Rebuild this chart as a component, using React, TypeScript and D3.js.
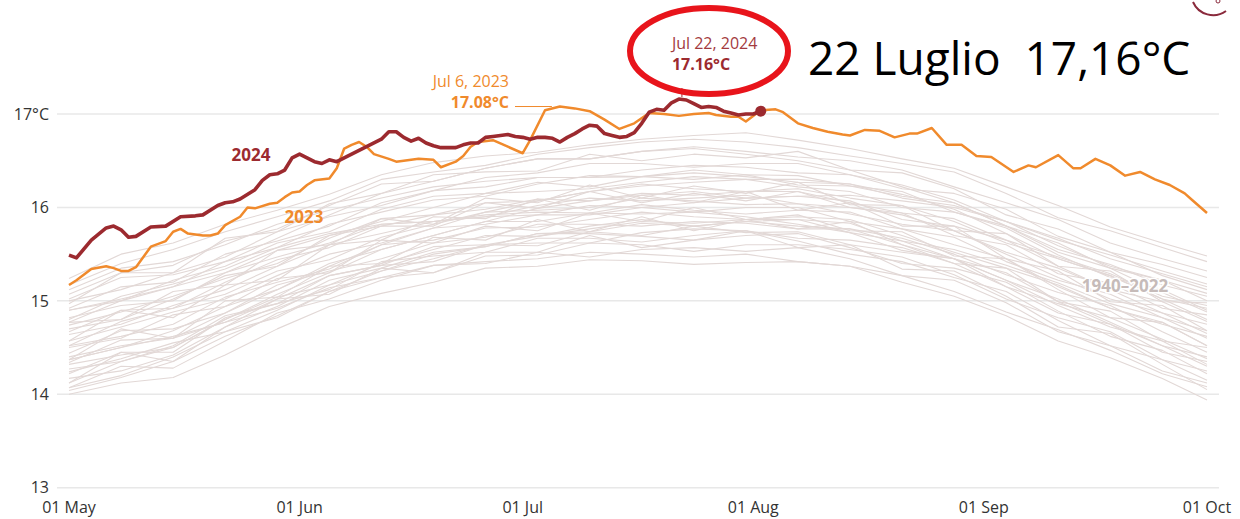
import React from "react";
import * as d3 from "d3";

// ---- Data (day offset from 1 May, °C) ----
const days2024 = [0,1,3,5,6,7,8,9,11,13,15,17,18,20,21,22,23,25,26,27,28,29,30,31,33,34,35,36,38,40,42,43,44,45,46,47,48,49,50,51,52,53,54,55,56,57,58,59,60,61,62,63,64,65,66,67,68,69,70,71,72,73,74,75,76,77,78,79,80,81,82,83,84,85,86,87,88,89,90,91,92,93];
const temps2024 = [15.49,15.46,15.65,15.78,15.80,15.76,15.68,15.69,15.79,15.80,15.90,15.91,15.92,16.02,16.05,16.06,16.09,16.19,16.29,16.35,16.36,16.40,16.53,16.57,16.49,16.47,16.51,16.49,16.57,16.65,16.73,16.81,16.81,16.75,16.71,16.74,16.69,16.66,16.64,16.64,16.64,16.67,16.69,16.69,16.75,16.76,16.77,16.78,16.76,16.75,16.73,16.75,16.75,16.74,16.70,16.75,16.79,16.84,16.88,16.87,16.79,16.77,16.75,16.76,16.80,16.90,17.02,17.05,17.04,17.12,17.16,17.15,17.11,17.07,17.08,17.07,17.03,17.01,16.99,17.00,17.00,17.03];

const days2023 = [0,1,3,5,6,7,8,9,11,13,14,15,16,18,19,20,21,23,24,25,27,28,29,30,31,32,33,35,36,37,38,39,40,41,43,44,45,47,49,50,52,53,54,55,57,59,61,62,64,66,68,70,72,74,76,78,80,82,84,86,87,89,90,91,93,95,96,98,100,102,104,105,107,109,111,113,114,116,118,120,122,124,127,129,130,133,135,136,138,140,142,144,146,148,150,151,153];
const temps2023 = [15.17,15.22,15.34,15.37,15.35,15.32,15.32,15.36,15.58,15.64,15.74,15.77,15.72,15.70,15.70,15.72,15.81,15.90,16.00,15.99,16.04,16.05,16.11,16.16,16.17,16.24,16.29,16.31,16.42,16.63,16.67,16.70,16.65,16.57,16.52,16.49,16.50,16.52,16.51,16.43,16.49,16.55,16.65,16.70,16.72,16.65,16.58,16.72,17.04,17.08,17.06,17.03,16.94,16.84,16.90,17.01,17.00,16.98,17.00,17.01,16.99,16.97,16.97,16.92,17.04,17.05,17.02,16.90,16.85,16.81,16.78,16.77,16.83,16.82,16.75,16.79,16.79,16.85,16.67,16.67,16.55,16.54,16.38,16.45,16.43,16.56,16.42,16.42,16.52,16.45,16.34,16.38,16.30,16.24,16.15,16.08,15.94];

const grayDays = [0,7,14,21,28,35,42,49,56,63,70,77,84,91,98,105,112,119,126,133,140,147,153];
const grayYears = [
  [14.00,14.12,14.18,14.42,14.70,14.94,15.08,15.20,15.35,15.37,15.44,15.43,15.39,15.41,15.42,15.37,15.20,15.05,14.84,14.57,14.39,14.17,13.94],
  [14.07,14.30,14.28,14.57,14.87,15.02,15.22,15.38,15.40,15.52,15.47,15.55,15.57,15.53,15.57,15.45,15.27,15.22,14.98,14.67,14.52,14.25,14.12],
  [14.17,14.25,14.42,14.72,14.94,15.22,15.35,15.52,15.58,15.72,15.72,15.69,15.65,15.70,15.72,15.57,15.40,15.35,15.20,14.89,14.62,14.47,14.22],
  [14.24,14.38,14.55,14.67,14.82,15.10,15.25,15.30,15.48,15.49,15.62,15.60,15.53,15.60,15.60,15.55,15.47,15.28,15.02,14.82,14.67,14.37,14.25],
  [14.32,14.42,14.50,14.80,15.04,15.17,15.40,15.55,15.70,15.69,15.80,15.87,15.80,15.85,15.87,15.73,15.54,15.45,15.30,14.99,14.75,14.52,14.30],
  [14.34,14.58,14.60,14.77,15.02,15.27,15.38,15.42,15.60,15.62,15.62,15.73,15.77,15.75,15.67,15.65,15.57,15.40,15.15,14.97,14.82,14.59,14.38],
  [14.37,14.50,14.68,14.94,15.12,15.40,15.55,15.70,15.85,15.85,15.94,16.03,15.97,15.93,15.97,15.95,15.77,15.60,15.45,15.15,14.92,14.77,14.52],
  [14.44,14.68,14.70,14.87,15.17,15.32,15.45,15.62,15.68,15.82,15.82,15.80,15.85,15.83,15.77,15.77,15.67,15.50,15.28,15.09,14.95,14.67,14.45],
  [14.52,14.62,14.75,15.04,15.20,15.34,15.60,15.65,15.78,15.79,15.87,15.95,15.90,15.87,15.90,15.87,15.70,15.52,15.35,15.17,14.92,14.75,14.62],
  [14.57,14.72,14.88,15.02,15.27,15.50,15.62,15.78,15.82,15.92,16.02,16.00,15.95,16.00,16.00,15.85,15.77,15.68,15.42,15.22,15.07,14.82,14.60],
  [14.64,14.75,14.95,15.12,15.37,15.60,15.72,15.85,15.90,16.02,16.10,16.07,16.10,16.13,16.04,16.00,15.92,15.75,15.52,15.35,15.12,14.87,14.75],
  [14.67,14.90,14.92,15.20,15.44,15.57,15.80,15.92,15.98,16.09,16.07,16.13,16.17,16.10,16.12,16.07,15.87,15.80,15.65,15.37,15.12,14.99,14.78],
  [14.74,14.88,15.05,15.24,15.40,15.67,15.88,15.92,16.05,16.07,16.17,16.25,16.20,16.17,16.20,16.10,16.02,15.85,15.62,15.45,15.27,15.02,14.92],
  [14.82,14.95,15.00,15.30,15.54,15.70,15.85,16.00,16.15,16.17,16.20,16.27,16.33,16.30,16.22,16.17,16.00,15.95,15.78,15.49,15.25,15.12,14.90],
  [14.80,15.05,15.18,15.34,15.57,15.82,15.95,16.08,16.12,16.25,16.34,16.33,16.30,16.35,16.34,16.23,16.12,16.05,15.80,15.55,15.39,15.17,15.05],
  [14.92,15.15,15.20,15.50,15.64,15.80,16.05,16.18,16.22,16.32,16.32,16.40,16.45,16.43,16.37,16.35,16.24,16.08,15.85,15.67,15.45,15.29,15.15],
  [15.00,15.12,15.30,15.47,15.74,15.90,16.02,16.18,16.32,16.37,16.47,16.47,16.43,16.47,16.47,16.35,16.20,16.15,15.98,15.69,15.52,15.27,15.12],
  [15.07,15.30,15.38,15.64,15.77,16.02,16.25,16.28,16.42,16.52,16.52,16.60,16.65,16.60,16.54,16.50,16.40,16.22,16.05,15.87,15.62,15.45,15.32],
  [15.17,15.40,15.55,15.74,15.90,16.07,16.30,16.38,16.45,16.57,16.64,16.70,16.73,16.70,16.64,16.55,16.47,16.38,16.15,15.89,15.75,15.57,15.42],
  [15.24,15.50,15.62,15.82,15.97,16.14,16.35,16.48,16.55,16.59,16.67,16.73,16.77,16.80,16.72,16.63,16.52,16.42,16.22,16.02,15.79,15.62,15.48],
  [14.12,14.35,14.50,14.80,15.07,15.30,15.55,15.70,15.85,15.99,16.07,16.15,16.13,16.17,16.17,16.05,15.94,15.88,15.65,15.47,15.29,15.05,14.95],
  [14.90,15.02,15.15,15.30,15.47,15.62,15.82,15.85,15.92,15.95,15.94,15.93,15.95,15.90,15.82,15.73,15.64,15.45,15.22,14.95,14.72,14.57,14.32],
  [14.04,14.18,14.35,14.62,14.84,15.10,15.32,15.45,15.60,15.69,15.77,15.85,15.83,15.87,15.87,15.83,15.64,15.55,15.38,15.19,14.97,14.82,14.68],
  [15.02,15.25,15.28,15.42,15.57,15.72,15.82,15.85,15.90,15.92,15.92,16.00,16.05,16.10,16.12,16.13,16.07,16.00,15.85,15.65,15.49,15.32,15.18],
  [14.22,14.45,14.45,14.82,14.97,15.12,15.42,15.48,15.52,15.67,15.67,15.63,15.70,15.75,15.64,15.50,15.42,15.25,15.10,14.79,14.52,14.37,14.15],
  [15.12,15.35,15.42,15.60,15.82,15.97,16.10,16.22,16.28,16.32,16.32,16.33,16.37,16.33,16.27,16.25,16.14,15.98,15.72,15.45,15.27,15.02,14.80],
  [14.52,14.78,14.92,15.07,15.32,15.44,15.68,15.82,15.95,15.97,16.00,16.10,16.07,16.03,16.04,15.93,15.82,15.75,15.50,15.25,15.02,14.87,14.65],
  [14.40,14.52,14.60,14.87,15.12,15.37,15.60,15.78,15.95,16.07,16.17,16.23,16.27,16.30,16.30,16.25,16.10,16.02,15.85,15.59,15.37,15.22,15.08],
  [14.37,14.70,14.60,15.00,15.04,15.37,15.40,15.68,15.65,15.87,15.74,15.90,15.75,15.87,15.77,15.85,15.60,15.40,15.35,14.99,14.89,14.57,14.50],
  [14.77,14.80,15.10,15.17,15.54,15.60,15.88,15.82,16.10,16.05,16.24,16.10,16.23,16.15,16.27,16.03,16.02,15.75,15.72,15.37,15.32,14.99,14.98],
  [14.12,14.45,14.35,14.72,15.02,15.07,15.35,15.30,15.52,15.52,15.70,15.57,15.65,15.75,15.57,15.60,15.34,15.32,15.05,14.72,14.65,14.32,14.05],
  [14.97,15.30,15.30,15.67,15.74,16.04,16.15,16.35,16.38,16.39,16.57,16.50,16.57,16.53,16.60,16.40,16.37,16.20,15.92,15.77,15.52,15.39,15.25],
  [14.57,14.90,14.82,15.17,15.22,15.60,15.65,15.90,15.88,16.09,15.97,16.13,16.05,16.17,15.97,16.05,15.80,15.80,15.45,15.32,14.99,14.95,14.68],
  [14.37,14.50,14.62,14.77,14.92,15.14,15.25,15.38,15.42,15.45,15.52,15.50,15.47,15.50,15.42,15.37,15.27,15.10,14.88,14.69,14.47,14.22,14.08],
  [14.77,15.00,15.15,15.42,15.67,15.92,16.15,16.28,16.42,16.52,16.52,16.60,16.63,16.57,16.50,16.40,16.22,16.05,15.80,15.52,15.35,15.09,14.88],
  [14.50,14.60,14.85,14.94,15.24,15.30,15.65,15.62,15.80,15.75,15.94,15.85,16.00,15.87,15.92,15.75,15.74,15.48,15.45,15.12,14.82,14.77,14.52],
  [14.90,15.00,15.22,15.37,15.62,15.74,15.98,16.12,16.15,16.27,16.22,16.33,16.40,16.35,16.24,16.23,16.17,15.95,15.80,15.62,15.35,15.22,15.00],
  [14.27,14.35,14.52,14.84,14.97,15.27,15.38,15.58,15.60,15.59,15.74,15.70,15.80,15.73,15.74,15.60,15.52,15.45,15.15,14.87,14.75,14.45,14.35],
  [14.70,14.80,15.02,15.27,15.37,15.70,15.80,15.80,16.05,15.99,16.17,16.05,16.15,16.07,16.17,16.00,15.94,15.70,15.60,15.29,15.19,14.92,14.85],
  [14.07,14.20,14.40,14.67,14.90,15.17,15.32,15.50,15.58,15.72,15.74,15.83,15.80,15.85,15.80,15.77,15.60,15.45,15.22,15.02,14.77,14.52,14.40],
];

const yTicks = [13, 14, 15, 16, 17];
const xTickMonths = [4, 5, 6, 7, 8, 9]; // May..Oct (month index)
const peak2024 = { day: 82, value: 17.16, date: "Jul 22, 2024", label: "17.16°C" };
const peak2023 = { day: 66, value: 17.08, date: "Jul 6, 2023", label: "17.08°C" };
const bigNote = "22 Luglio  17,16°C";

const W = 1240, H = 519;
const BASE_YEAR = 2023;
const start = new Date(BASE_YEAR, 4, 1);
const dayDate = (d: number) => d3.timeDay.offset(start, d);

const x = d3.scaleTime().domain([start, new Date(BASE_YEAR, 9, 1)]).range([69, 1207]);
const y = d3.scaleLinear().domain([13, 17]).range([487.7, 114]);

const FONT = "'Open Sans', 'Noto Sans', sans-serif";
const RED = "#9c2a2f";
const ORANGE = "#f08a2c";
const GRAY = "#e2d8d6";

function linePath(days: number[], vals: number[]) {
  const pts: [number, number][] = days.map((d, i) => [d, vals[i]]);
  return d3.line<[number, number]>().x(p => x(dayDate(p[0]))).y(p => y(p[1]))(pts) || "";
}

export default function App() {
  const fmt = d3.timeFormat("%d %b");
  const px24 = x(dayDate(peak2024.day));
  const py24 = y(peak2024.value);
  const px23 = x(dayDate(peak2023.day));
  const py23 = y(peak2023.value);
  const lastDay = days2024[days2024.length - 1];
  const lastVal = temps2024[temps2024.length - 1];
  return (
    <svg width={W} height={H} style={{ position: "absolute", left: 0, top: 0, display: "block", background: "#fff" }} fontFamily={FONT}>
      {/* grid */}
      {yTicks.map(t => (
        <g key={t}>
          <line x1={57} x2={1219} y1={y(t)} y2={y(t)} stroke="#e8e8e8" strokeWidth={1.5} />
          <text x={49} y={y(t)} dy="0.36em" textAnchor="end" fontSize={16} fill="#333">{t === 17 ? "17°C" : t}</text>
        </g>
      ))}
      {xTickMonths.map(m => {
        const dt = new Date(BASE_YEAR, m, 1);
        return <text key={m} x={x(dt)} y={512.5} textAnchor="middle" fontSize={16} fill="#333">{fmt(dt)}</text>;
      })}
      {/* historical years */}
      <g fill="none" stroke={GRAY} strokeWidth={1.1} strokeLinejoin="round">
        {grayYears.map((vals, i) => <path key={i} d={linePath(grayDays, vals)} />)}
      </g>
      <text x={1125} y={292} textAnchor="middle" fontSize={17} fontWeight="bold" fill="#c6bbb9" stroke="#fff" strokeWidth={3} style={{ paintOrder: "stroke" }}>1940–2022</text>
      {/* 2023 */}
      <path d={linePath(days2023, temps2023)} fill="none" stroke={ORANGE} strokeWidth={2.5} strokeLinejoin="round" />
      {/* 2024 */}
      <path d={linePath(days2024, temps2024)} fill="none" stroke={RED} strokeWidth={3.6} strokeLinejoin="round" />
      <circle cx={x(dayDate(lastDay))} cy={y(lastVal)} r={5.5} fill={RED} />
      {/* series labels */}
      <text x={251} y={161} textAnchor="middle" fontSize={17} fontWeight="bold" fill={RED}>2024</text>
      <text x={304} y={223} textAnchor="middle" fontSize={17} fontWeight="bold" fill={ORANGE}>2023</text>
      {/* 2023 annotation */}
      <text x={509} y={87} textAnchor="end" fontSize={16} fill={ORANGE}>{peak2023.date}</text>
      <text x={509} y={108} textAnchor="end" fontSize={16} fontWeight="bold" fill={ORANGE}>{peak2023.label}</text>
      <line x1={515} x2={px23 - 8} y1={py23} y2={py23} stroke={ORANGE} strokeWidth={1} />
      {/* 2024 annotation */}
      <text x={px24 - 7} y={49} fontSize={16} fill="#a33a3e">{peak2024.date}</text>
      <text x={px24 - 7} y={70} fontSize={16} fontWeight="bold" fill={RED}>{peak2024.label}</text>
      <line x1={px24 + 3} x2={px24 + 3} y1={88} y2={py24 - 2} stroke={RED} strokeWidth={1} />
      {/* red highlight ellipse */}
      <ellipse cx={709} cy={51} rx={79} ry={43} fill="none" stroke="#e8141b" strokeWidth={6} />
      <text x={808} y={75} fontSize={46} fill="#000" style={{ whiteSpace: "pre" }}>{bigNote}</text>
      {/* logo fragment */}
      <path d="M1193,2 A22,22 0 0 0 1226,11" fill="none" stroke="#8a2a3c" strokeWidth={2} />
      <circle cx={1218} cy={1} r={2} fill="none" stroke="#8a2a3c" strokeWidth={1} />
    </svg>
  );
}
